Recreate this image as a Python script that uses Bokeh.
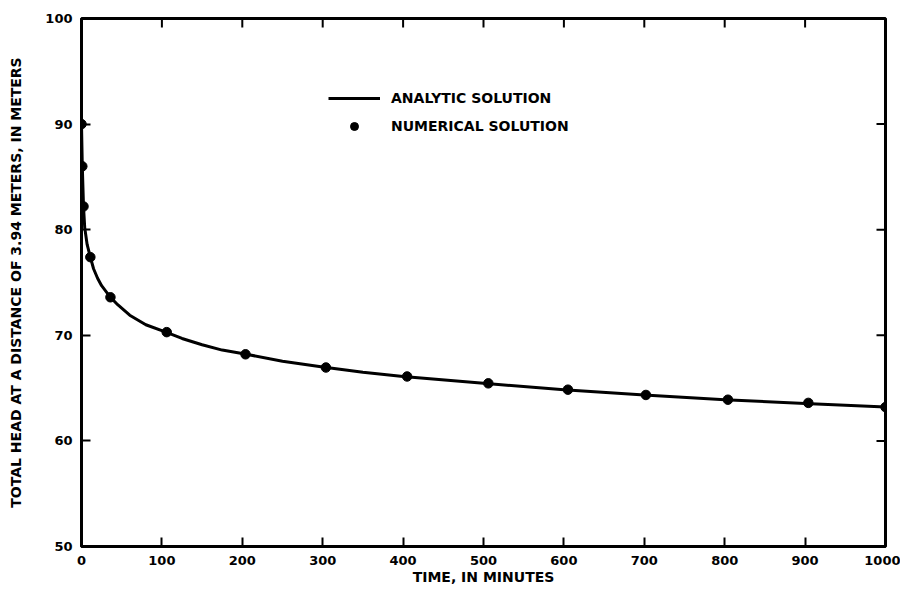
import math
from bokeh.plotting import figure
from bokeh.models import Range1d, FixedTicker, Legend, LegendItem
from bokeh.embed import file_html
from bokeh.resources import INLINE

# Analytic solution
t_analytic = [0, 1, 2.5, 4, 7, 11, 15, 20, 25, 36, 45, 60, 80, 105, 125, 150, 175, 205,
              250, 300, 350, 400, 500, 600, 700, 800, 900, 1000]
h_analytic = [90, 86, 82.2, 80.2, 78.6, 77.4, 76.3, 75.4, 74.7, 73.6, 72.9, 71.9, 71.0, 70.3, 69.7,
              69.1, 68.6, 68.2, 67.55, 67.0, 66.5, 66.1, 65.45, 64.85, 64.35, 63.9, 63.55, 63.2]

# Numerical solution (dots)
t_numerical = [0, 1, 2.5, 11, 36, 106, 204, 304, 405, 506, 605, 702, 804, 904, 1000]
h_numerical = [90, 86, 82.2, 77.4, 73.6, 70.3, 68.2, 66.95, 66.1, 65.45, 64.85, 64.35, 63.9, 63.6, 63.2]

x_ticks = [0, 100, 200, 300, 400, 500, 600, 700, 800, 900, 1000]
y_ticks = [50, 60, 70, 80, 90, 100]
inner_x_ticks = [100, 200, 300, 400, 500, 600, 700, 800, 900]
inner_y_ticks = [60, 70, 80, 90]
x_min, x_max = 0, 1000
y_min, y_max = 50, 100

FONT = "DejaVu Sans"

p = figure(width=900, height=593, output_backend="svg", toolbar_location=None,
           x_range=Range1d(x_min, x_max), y_range=Range1d(y_min, y_max),
           min_border_left=81, min_border_right=15, min_border_top=18, min_border_bottom=47)

p.grid.visible = False
p.outline_line_color = "black"
p.outline_line_width = 3
p.background_fill_color = "white"
p.border_fill_color = "white"

xa = p.xaxis[0]
xa.ticker = FixedTicker(ticks=x_ticks)
xa.axis_label = "TIME, IN MINUTES"
ya = p.yaxis[0]
ya.ticker = FixedTicker(ticks=y_ticks)
ya.axis_label = "TOTAL HEAD AT A DISTANCE OF 3.94 METERS, IN METERS"

for ax in (xa, ya):
    ax.axis_line_color = "black"
    ax.axis_line_width = 3
    ax.major_tick_in = 9
    ax.major_tick_out = 0
    ax.major_tick_line_width = 2
    ax.minor_tick_line_color = None
    ax.major_label_text_font = FONT
    ax.major_label_text_font_style = "bold"
    ax.major_label_text_font_size = "13px"
    ax.major_label_text_color = "black"
    ax.axis_label_text_font = FONT
    ax.axis_label_text_font_style = "bold"
    ax.axis_label_text_font_size = "14px"
    ax.axis_label_text_color = "black"
    ax.major_label_standoff = 9

xa.axis_label_standoff = 1
ya.axis_label_standoff = 18

# Inward ticks on the top and right edges (half of each dash is clipped by the frame)
p.scatter(inner_x_ticks, [y_max] * len(inner_x_ticks), marker="dash", size=18,
          angle=math.pi / 2, line_color="black", line_width=2)
p.scatter([x_max] * len(inner_y_ticks), inner_y_ticks, marker="dash", size=18,
          line_color="black", line_width=2)

line = p.line(t_analytic, h_analytic, line_color="black", line_width=3,
              line_join="round")
dots = p.scatter(t_numerical, h_numerical, size=9.5, marker="circle",
                 fill_color="black", line_color="black")

legend = Legend(items=[LegendItem(label="ANALYTIC SOLUTION", renderers=[line]),
                       LegendItem(label="NUMERICAL SOLUTION", renderers=[dots])],
                location=(247, 410), orientation="vertical",
                glyph_width=52, glyph_height=20, label_height=20,
                label_standoff=11, spacing=8, padding=0, margin=0,
                border_line_color=None, background_fill_alpha=0,
                label_text_font=FONT, label_text_font_style="bold",
                label_text_font_size="14px", label_text_color="black")
p.add_layout(legend, "center")

open("out.html", "w").write(file_html(p, INLINE))
